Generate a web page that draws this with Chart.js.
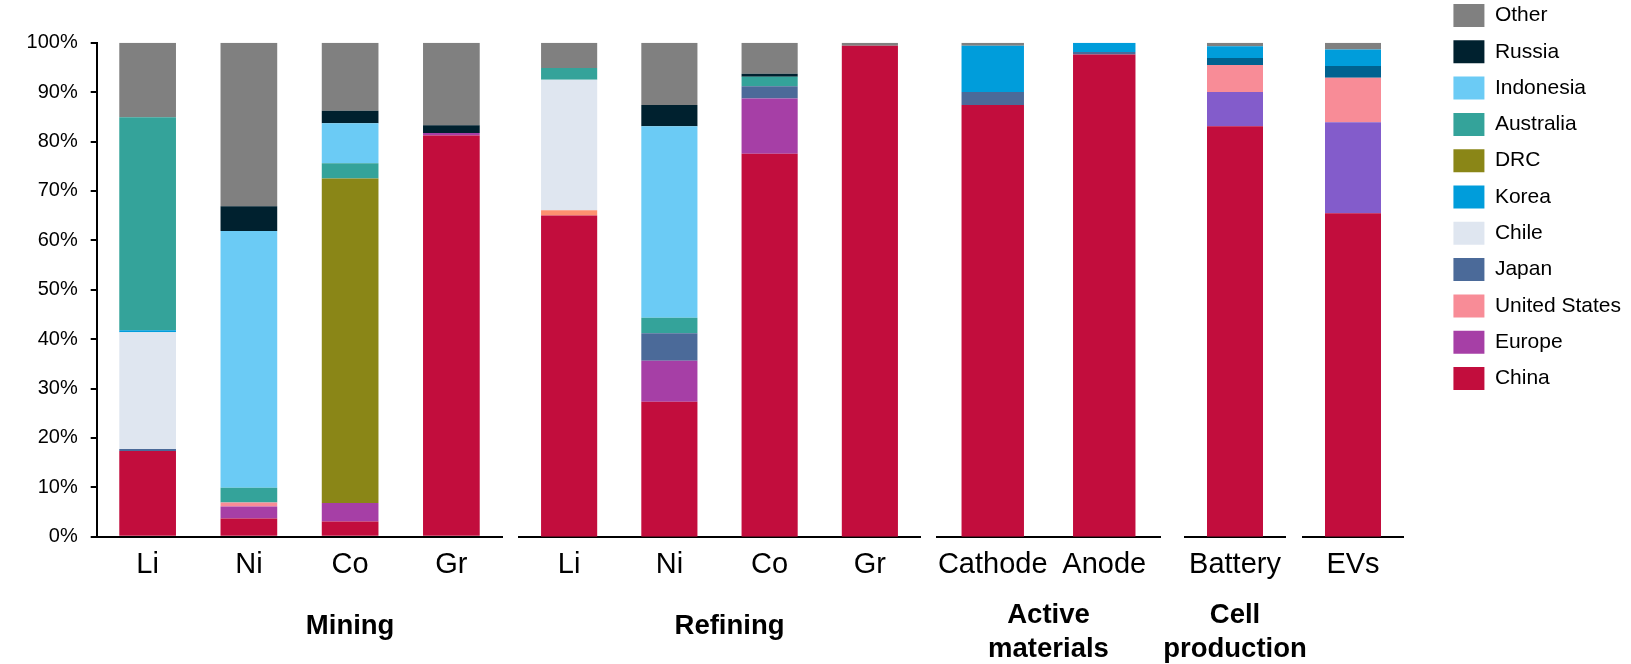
<!DOCTYPE html>
<html>
<head>
<meta charset="utf-8">
<script src="https://cdn.jsdelivr.net/npm/chart.js@4/dist/chart.umd.min.js"></script>
<style>
  html, body { margin: 0; padding: 0; background: #fff; }
  #wrap { position: relative; width: 1631px; height: 664px; overflow: hidden; }
  #wrap canvas { position: absolute; left: 0; top: 0; }
</style>
</head>
<body>
<div id="wrap">
  <canvas id="c0"></canvas>
  <canvas id="c1"></canvas>
  <canvas id="c2"></canvas>
  <canvas id="c3"></canvas>
  <canvas id="c4"></canvas>
  <canvas id="legend"></canvas>
</div>
<script>
// DATA (shares in %, one value per category)
var categories = ['Li', 'Ni', 'Co', 'Gr', 'Li', 'Ni', 'Co', 'Gr', 'Cathode', 'Anode', 'Battery', 'EVs'];

var china     = [17.35, 3.7, 3.1, 81.2, 65.0, 27.3, 77.5, 99.4, 87.4, 97.6, 83.1, 65.5];
var europe    = [0, 2.4, 3.7, 0.5, 0, 8.3, 11.2, 0, 0, 0, 6.9, 18.4];
var us        = [0, 0.8, 0, 0, 1.1, 0, 0, 0, 0, 0, 5.5, 9.0];
var japan     = [0.4, 0, 0, 0, 0, 5.6, 2.5, 0, 2.6, 0.5, 1.4, 2.4];
var chile     = [23.65, 0, 0, 0, 26.4, 0, 0, 0, 0, 0, 0, 0];
var korea     = [0.4, 0, 0, 0, 0, 0, 0, 0, 9.4, 1.9, 2.4, 3.3];
var drc       = [0, 0, 65.7, 0, 0, 0, 0, 0, 0, 0, 0, 0];
var australia = [43.1, 3.0, 3.1, 0, 2.4, 3.1, 1.9, 0, 0, 0, 0, 0];
var indonesia = [0, 52.0, 8.1, 0, 0, 38.8, 0, 0, 0, 0, 0, 0];
var russia    = [0, 5.0, 2.5, 1.6, 0, 4.3, 0.6, 0, 0, 0, 0, 0];
var other     = [15.1, 33.1, 13.8, 16.7, 5.1, 12.6, 6.3, 0.6, 0.6, 0, 0.7, 1.4];

var seriesNames = ['China', 'Europe', 'United States', 'Japan', 'Chile', 'Korea', 'DRC', 'Australia', 'Indonesia', 'Russia', 'Other'];
var seriesData = [china, europe, us, japan, chile, korea, drc, australia, indonesia, russia, other];

// STYLE
var seriesColors = ['#c20d3d', '#a63fa6', '#f88c97', '#4b6a99', '#dfe6f0', '#009ddb', '#8a8617', '#34a39a', '#6bcbf5', '#00212f', '#808080'];
// a few bars use other shades in the original (category index -> colour)
var colorOverrides = {
    'Europe': { 10: '#835ccb', 11: '#835ccb' },
    'Japan': { 10: '#006290', 11: '#006290' },
    'United States': { 4: '#fd9170' }
};

var W = 1631, H = 664;
var plotTop = 42.7, plotBottom = 536.7;
var xAxisHeight = 44;

// one chart per axis segment
var panels = [
    { id: 'c0', from: 0, to: 4, left: 97, right: 502, title: ['Mining'], titleAt: 2, yAxis: true },
    { id: 'c1', from: 4, to: 8, left: 519, right: 920, title: ['Refining'], titleAt: 1.6 },
    { id: 'c2', from: 8, to: 10, left: 937, right: 1160, title: ['Active', 'materials'], titleAt: 0.5 },
    { id: 'c3', from: 10, to: 11, left: 1185, right: 1285, title: ['Cell', 'production'], titleAt: 0 },
    { id: 'c4', from: 11, to: 12, left: 1303, right: 1403, title: [], titleAt: 0 }
];

Chart.defaults.font.family = '"Liberation Sans", Arial, sans-serif';
Chart.defaults.color = '#000';

// group label under the category labels
var groupLabelPlugin = {
    id: 'groupLabel',
    afterDraw: function (chart, args, opts) {
        if (!opts.lines || !opts.lines.length) return;
        var ctx = chart.ctx;
        var x = chart.scales.x.getPixelForValue(opts.at);
        var base = chart.chartArea.bottom;
        var offsets = opts.lines.length === 1 ? [97.3] : [86.3, 120.3];
        ctx.save();
        ctx.font = 'bold 27.5px "Liberation Sans", Arial, sans-serif';
        ctx.fillStyle = '#000';
        ctx.textAlign = 'center';
        ctx.textBaseline = 'alphabetic';
        opts.lines.forEach(function (line, i) {
            ctx.fillText(line, x, base + offsets[i]);
        });
        ctx.restore();
    }
};

function buildDatasets(from, to) {
    return seriesNames.map(function (name, s) {
        var colors = [];
        for (var i = from; i < to; i++) {
            var o = colorOverrides[name];
            colors.push(o && o[i] ? o[i] : seriesColors[s]);
        }
        return {
            label: name,
            data: seriesData[s].slice(from, to),
            backgroundColor: colors,
            borderWidth: 0,
            barPercentage: 0.56,
            categoryPercentage: 1
        };
    });
}

panels.forEach(function (p) {
    var canvas = document.getElementById(p.id);
    canvas.width = W;
    canvas.height = H;

    var yScale = { stacked: true, min: 0, max: 100, display: false };
    if (p.yAxis) {
        yScale = {
            stacked: true,
            min: 0,
            max: 100,
            grid: { drawOnChartArea: false, drawTicks: true, tickLength: 6.3, color: '#000', lineWidth: 2 },
            border: { display: true, color: '#000', width: 2 },
            ticks: {
                stepSize: 10,
                padding: 13,
                font: { size: 20 },
                color: '#000',
                callback: function (v) { return v + '%'; }
            },
            afterFit: function (s) { s.width = p.left; }
        };
    }

    new Chart(canvas, {
        type: 'bar',
        data: {
            labels: categories.slice(p.from, p.to),
            datasets: buildDatasets(p.from, p.to)
        },
        options: {
            responsive: false,
            animation: false,
            layout: {
                padding: {
                    left: p.yAxis ? 0 : p.left,
                    right: W - p.right,
                    top: plotTop,
                    bottom: H - plotBottom - xAxisHeight
                }
            },
            plugins: {
                legend: { display: false },
                tooltip: { enabled: false },
                groupLabel: { lines: p.title, at: p.titleAt }
            },
            scales: {
                x: {
                    stacked: true,
                    grid: { display: false, drawTicks: false },
                    border: { display: true, color: '#000', width: 2 },
                    ticks: { font: { size: 29 }, padding: 11, color: '#000', maxRotation: 0, autoSkip: false },
                    afterFit: function (s) { s.height = xAxisHeight; }
                },
                y: yScale
            }
        },
        plugins: [groupLabelPlugin]
    });
});

// LEGEND (own chart so it can sit at the far right)
var legendCanvas = document.getElementById('legend');
legendCanvas.width = W;
legendCanvas.height = H;
new Chart(legendCanvas, {
    type: 'bar',
    data: {
        labels: [],
        datasets: seriesNames.map(function (name, s) {
            return { label: name, data: [], backgroundColor: seriesColors[s], borderWidth: 0 };
        })
    },
    options: {
        responsive: false,
        animation: false,
        layout: { padding: { top: -9.3 } },
        scales: { x: { display: false }, y: { display: false } },
        plugins: {
            tooltip: { enabled: false },
            legend: {
                position: 'right',
                align: 'start',
                reverse: true,
                labels: { boxWidth: 31, boxHeight: 23, padding: 13.3, font: { size: 21 }, color: '#000' }
            }
        }
    }
});
</script>
</body>
</html>
